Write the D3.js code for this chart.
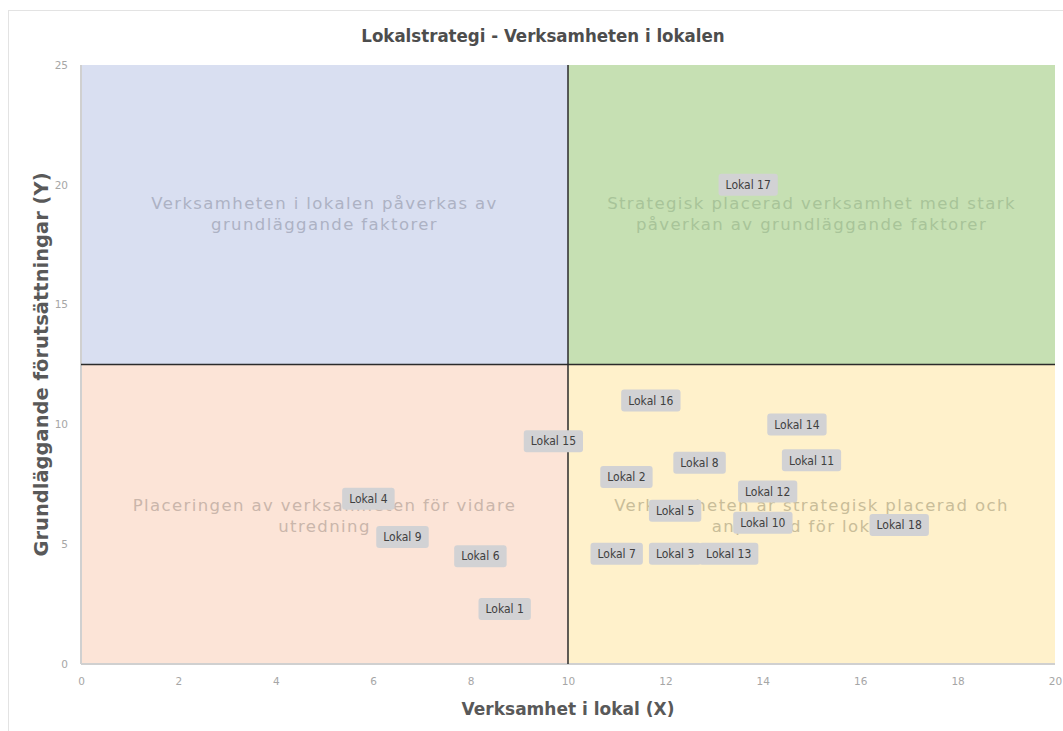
<!DOCTYPE html>
<html>
<head>
<meta charset="utf-8">
<script src="https://cdn.jsdelivr.net/npm/d3@7"></script>
<style>
  body { margin: 0; background: #fff; }
  svg { display: block; }
</style>
</head>
<body>
<div id="chart"><svg width="1063" height="731"></svg></div>
<script>
// ** data
var names = ["Lokal 1", "Lokal 2", "Lokal 3", "Lokal 4", "Lokal 5", "Lokal 6", "Lokal 7", "Lokal 8", "Lokal 9",
             "Lokal 10", "Lokal 11", "Lokal 12", "Lokal 13", "Lokal 14", "Lokal 15", "Lokal 16", "Lokal 17", "Lokal 18"];
var xValues = [8.7, 11.2, 12.2, 5.9, 12.2, 8.2, 11.0, 12.7, 6.6, 14.0, 15.0, 14.1, 13.3, 14.7, 9.7, 11.7, 13.7, 16.8];
var yValues = [2.3, 7.8, 4.6, 6.9, 6.4, 4.5, 4.6, 8.4, 5.3, 5.9, 8.5, 7.2, 4.6, 10.0, 9.3, 11.0, 20.0, 5.8];

var quadTexts = [
  ["Verksamheten i lokalen påverkas av", "grundläggande faktorer"],
  ["Strategisk placerad verksamhet med stark", "påverkan av grundläggande faktorer"],
  ["Placeringen av verksamheten för vidare", "utredning"],
  ["Verksamheten är strategisk placerad och", "anpassad för lokalen"]
];
var quadColors = ["#d9dff1", "#c6e0b3", "#fce4d7", "#fff1cb"];
var xTicks = [0, 2, 4, 6, 8, 10, 12, 14, 16, 18, 20];
var yTicks = [0, 5, 10, 15, 20, 25];
var xMid = 10, yMid = 12.5;

var svg = d3.select("#chart").select("svg"),
    margin = {top: 65, right: 8, bottom: 67, left: 81},
    width = +svg.attr("width") - margin.left - margin.right,
    height = +svg.attr("height") - margin.top - margin.bottom;

// outer chart border
svg.append("rect")
    .attr("x", 8.5).attr("y", 10.5)
    .attr("width", 1063).attr("height", 740)
    .attr("fill", "none")
    .attr("stroke", "#e3e3e3");

var g = svg.append("g").attr("transform", "translate(" + margin.left + "," + margin.top + ")");

var x = d3.scaleLinear().domain([0, 20]).range([0, width]);
var y = d3.scaleLinear().domain([0, 25]).range([height, 0]);

var narrow = "'Liberation Sans Narrow', 'DejaVu Sans Condensed', sans-serif";
var wide = "'DejaVu Sans', Verdana, sans-serif";

// quadrants: top-left, top-right, bottom-left, bottom-right
var quads = [
  {x0: 0, x1: xMid, y0: yMid, y1: 25},
  {x0: xMid, x1: 20, y0: yMid, y1: 25},
  {x0: 0, x1: xMid, y0: 0, y1: yMid},
  {x0: xMid, x1: 20, y0: 0, y1: yMid}
];

g.append("g")
  .selectAll("rect")
  .data(quads)
  .enter().append("rect")
    .attr("x", function(d) { return x(d.x0); })
    .attr("y", function(d) { return y(d.y1); })
    .attr("width", function(d) { return x(d.x1) - x(d.x0); })
    .attr("height", function(d) { return y(d.y0) - y(d.y1); })
    .attr("fill", function(d, i) { return quadColors[i]; });

// quadrant captions
var capY = [19.0, 19.0, 6.4, 6.4];
var capColors = ["#adb2c4", "#a8c499", "#cab6ab", "#c9bd99"];
g.append("g")
  .selectAll("text")
  .data(quadTexts)
  .enter().append("text")
    .attr("x", function(d, i) { return x((quads[i].x0 + quads[i].x1) / 2); })
    .attr("y", function(d, i) { return y(capY[i]); })
    .attr("text-anchor", "middle")
    .attr("font-family", wide)
    .attr("font-size", 16.5)
    .attr("letter-spacing", 1.4)
    .attr("fill", function(d, i) { return capColors[i]; })
    .selectAll("tspan")
    .data(function(d) { return d; })
    .enter().append("tspan")
      .attr("x", function() { return d3.select(this.parentNode).attr("x"); })
      .attr("dy", function(d, i) { return i == 0 ? 0 : 21; })
      .text(function(d) { return d; });

// axes (light grey lines)
g.append("line")
    .attr("x1", 0).attr("x2", 0).attr("y1", 0).attr("y2", height)
    .attr("stroke", "#d0d0d0").attr("stroke-width", 2);
g.append("line")
    .attr("x1", 0).attr("x2", width).attr("y1", height).attr("y2", height)
    .attr("stroke", "#d0d0d0").attr("stroke-width", 2);

// quadrant dividers
g.append("line")
    .attr("x1", x(xMid)).attr("x2", x(xMid)).attr("y1", 0).attr("y2", height)
    .attr("stroke", "#2b2b2b").attr("stroke-width", 1.5);
g.append("line")
    .attr("x1", 0).attr("x2", width).attr("y1", y(yMid)).attr("y2", y(yMid))
    .attr("stroke", "#2b2b2b").attr("stroke-width", 1.5);

// tick labels
var xAxis = g.append("g")
    .attr("transform", "translate(0," + height + ")")
    .call(d3.axisBottom(x).tickValues(xTicks).tickSize(0).tickPadding(14));
var yAxis = g.append("g")
    .call(d3.axisLeft(y).tickValues(yTicks).tickSize(0).tickPadding(13));
[xAxis, yAxis].forEach(function(a) {
  a.select(".domain").remove();
  a.selectAll("text")
    .attr("font-family", wide)
    .attr("font-size", 10.5)
    .attr("fill", "#a6a6a6");
});

// point labels
var pts = names.map(function(n, i) { return {name: n, x: xValues[i], y: yValues[i]}; });
var lab = g.append("g")
  .selectAll("g")
  .data(pts)
  .enter().append("g")
    .attr("transform", function(d) { return "translate(" + x(d.x) + "," + y(d.y) + ")"; });

lab.append("text")
    .attr("text-anchor", "middle")
    .attr("dy", "0.35em")
    .attr("font-family", narrow)
    .attr("font-size", 12)
    .attr("fill", "#404040")
    .text(function(d) { return d.name; });

lab.each(function() {
  var t = d3.select(this).select("text");
  var bb = t.node().getBBox();
  d3.select(this).insert("rect", "text")
    .attr("x", bb.x - 7)
    .attr("y", -11)
    .attr("width", bb.width + 14)
    .attr("height", 22)
    .attr("rx", 3)
    .attr("fill", "#d2d2d4");
});

// titles
svg.append("text")
    .attr("x", 543).attr("y", 42)
    .attr("text-anchor", "middle")
    .attr("font-family", narrow)
    .attr("font-weight", "bold")
    .attr("font-size", 18.5)
    .attr("fill", "#4d4d4d")
    .text("Lokalstrategi - Verksamheten i lokalen");

svg.append("text")
    .attr("x", 568).attr("y", 715)
    .attr("text-anchor", "middle")
    .attr("font-family", wide)
    .attr("font-weight", "bold")
    .attr("font-size", 17)
    .attr("fill", "#595959")
    .text("Verksamhet  i lokal (X)");

svg.append("text")
    .attr("transform", "translate(48," + (margin.top + height / 2) + ") rotate(-90)")
    .attr("text-anchor", "middle")
    .attr("font-family", wide)
    .attr("font-weight", "bold")
    .attr("font-size", 19.5)
    .attr("fill", "#595959")
    .text("Grundläggande förutsättningar (Y)");
</script>
</body>
</html>
